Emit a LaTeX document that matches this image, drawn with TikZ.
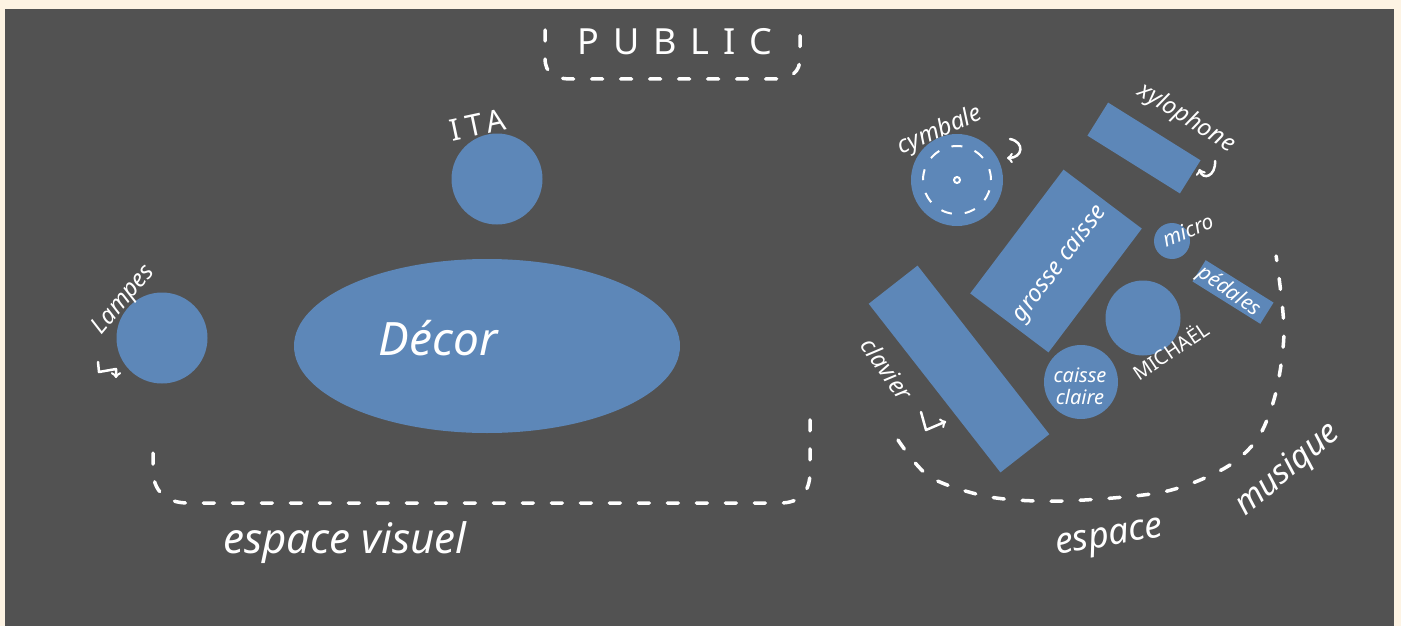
\documentclass[tikz,border=0pt]{standalone}
\usepackage{fontspec}
\usepackage{tikz}
\usetikzlibrary{shapes.geometric}
\setmainfont{Noto Sans}
\definecolor{board}{HTML}{525252}
\definecolor{paper}{HTML}{FDF3E3}
\definecolor{blue}{HTML}{5D87B8}

\begin{document}
\begin{tikzpicture}[x=1pt,y=-1pt,shorten >=1pt]
	\tikzstyle{part}=[fill=blue,draw=none,inner sep=0pt]
	\tikzstyle{disc}=[part,shape=circle]
	\tikzstyle{bar}=[part,shape=rectangle]
	\tikzstyle{hand}=[text=white,inner sep=0pt,font=\itshape\fontsize{24}{24}\selectfont]
	\tikzstyle{caps}=[text=white,inner sep=0pt,font=\fontsize{20}{20}\selectfont]
	\tikzstyle{zone}=[draw=white,line width=3.5pt,line cap=round,dash pattern=on 11pt off 18pt]
	\tikzstyle{hook}=[draw=white,line width=2.5pt,line cap=round,line join=round,->]

	\useasboundingbox (0,0) rectangle (1401,626);
	\fill[paper] (0,0) rectangle (1401,626);
	\fill[board] (5,9) rectangle (1394,626);

	% espace visuel
	\node[caps,font=\fontsize{36}{36}\selectfont](pub) at (675,42){P\hspace{14pt}U\hspace{14pt}B\hspace{14pt}L\hspace{14pt}I\hspace{14pt}C};
	\draw[zone] (545,30) -- (545,58) .. controls (545,74) and (555,79) .. (572,79) -- (772,79) .. controls (792,79) and (800,72) .. (800,58) -- (800,23);

	\node[disc,minimum size=91pt](ita) at (497,179){};
	\node[caps,font=\fontsize{30}{30}\selectfont,rotate=12](italbl) at (478,125){I\hspace{6pt}T\hspace{4pt}A};

	\node[disc,minimum size=91pt](lamp) at (162,338){};
	\node[hand,rotate=50](lamplbl) at (124,300){Lampes};
	\coordinate (lamph1) at (98,362);
	\coordinate (lamph2) at (116,379);
	\draw[hook] (lamph1) -- (99,372) -- (116,369) -- (lamph2);

	\node[part,shape=ellipse,minimum width=386pt,minimum height=174pt](decor) at (487,346){};
	\node[hand,font=\itshape\fontsize{46}{46}\selectfont](decorlbl) at (438,338){Décor};

	\draw[zone] (153,453) -- (153,470) .. controls (153,490) and (165,503) .. (188,503) -- (780,503) .. controls (800,503) and (810,492) .. (810,472) -- (810,414);
	\node[hand,font=\itshape\fontsize{42}{42}\selectfont](vislbl) at (345,543){espace visuel};

	% espace musique
	\node[disc,minimum size=92pt](cymb) at (957,180){};
	\draw[white,line width=2pt,dash pattern=on 11pt off 13pt] (cymb.center) circle (34pt);
	\draw[white,line width=2pt] (cymb.center) circle (3pt);
	\node[hand,rotate=24](cymblbl) at (940,131){cymbale};
	\coordinate (cymbh1) at (1010,139);
	\coordinate (cymbh2) at (1006,158);
	\draw[hook] (cymbh1) .. controls (1025,142) and (1023,158) .. (cymbh2);

	\node[bar,minimum width=109pt,minimum height=39pt,rotate=-32](xylo) at (1144,148){};
	\node[hand,rotate=-32](xylolbl) at (1186,118){xylophone};
	\coordinate (xyloh1) at (1215,161);
	\coordinate (xyloh2) at (1199,168);
	\draw[hook] (xyloh1) .. controls (1216,176) and (1203,181) .. (xyloh2);

	\node[bar,minimum width=155pt,minimum height=98pt,rotate=53](gcaisse) at (1056,261){};
	\node[hand,rotate=53](gcaisselbl) at (1060,264){grosse caisse};

	\node[disc,minimum size=36pt](micro) at (1172,241){};
	\node[hand,font=\itshape\fontsize{21}{21}\selectfont,rotate=22](microlbl) at (1188,230){micro};

	\node[bar,minimum width=80pt,minimum height=25pt,rotate=-32](ped) at (1233,292){};
	\node[hand,font=\itshape\fontsize{21}{21}\selectfont,rotate=-35](pedlbl) at (1229,292){pédales};

	\node[disc,minimum size=75pt](mich) at (1143,318){};
	\node[caps,rotate=34](michlbl) at (1170,350){MICHAËL};

	\node[disc,minimum size=74pt](cclaire) at (1081,382){};
	\node[hand,align=center,font=\itshape\fontsize{20}{22}\selectfont](cclairelbl) at (1080,386){caisse\\claire};

	\node[bar,minimum width=214pt,minimum height=62pt,rotate=-52](clav) at (959,369){};
	\node[hand,rotate=-55](clavlbl) at (887,369){clavier};
	\coordinate (clavh1) at (921,412);
	\coordinate (clavh2) at (947,421);
	\draw[hook] (clavh1) -- (926,430) -- (clavh2);

	\draw[zone] plot[smooth] coordinates {(898,440) (930,477) (990,497) (1063,501) (1163,492) (1225,468) (1258,438) (1276,392) (1284,330) (1276,255)};
	\node[hand,font=\itshape\fontsize{36}{36}\selectfont,rotate=10](muslbl) at (1110,540){espace};
	\node[hand,font=\itshape\fontsize{33}{33}\selectfont,rotate=40](muslbl2) at (1288,470){musique};

\end{tikzpicture}
\end{document}
